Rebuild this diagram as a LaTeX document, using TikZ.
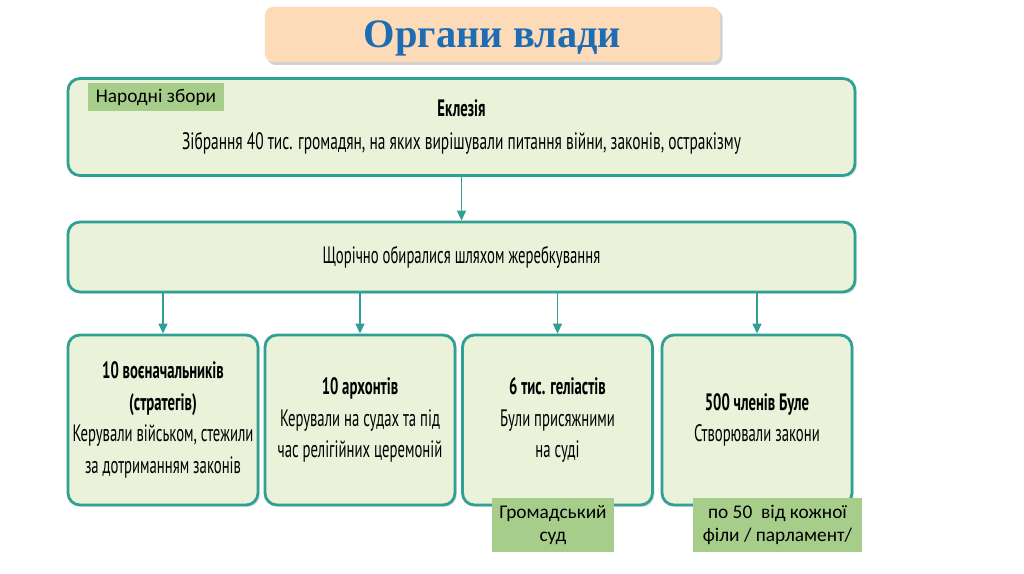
\documentclass[tikz,border=0pt]{standalone}
\usepackage{fontspec}
\setmainfont{Liberation Serif}
\newfontfamily\condfont[FakeStretch=0.62]{PT Sans}
\newfontfamily\condwide[FakeStretch=0.65]{PT Sans}
\newfontfamily\labelfont{Carlito}
\usetikzlibrary{shadows,arrows.meta}
\definecolor{tealline}{HTML}{2FA093}
\definecolor{boxfill}{HTML}{EAF3DA}
\definecolor{titlefill}{HTML}{FDDBB9}
\definecolor{titleblue}{HTML}{1E6DB4}
\definecolor{labelgreen}{HTML}{A6CD8A}
\tikzset{
  titlebox/.style={fill=titlefill, rounded corners=1.6mm, minimum width=91mm, minimum height=11mm,
    drop shadow={opacity=0.35,shadow xshift=0.5mm,shadow yshift=-0.6mm}, text depth=0pt,
    font=\bfseries\fontsize{23}{26}\selectfont, text=titleblue},
  panel/.style={draw=tealline, line width=1.6pt, rounded corners=2.4mm, fill=boxfill,
    drop shadow={opacity=0.2,shadow xshift=0.4mm,shadow yshift=-0.4mm},
    align=center, inner sep=0pt, font=\condfont\fontsize{13.5}{18}\selectfont},
  small/.style={panel, minimum width=38mm, minimum height=34mm},
  tag/.style={fill=labelgreen, align=center, inner sep=0pt, font=\labelfont\fontsize{11}{13.5}\selectfont},
  arr/.style={-{Triangle[width=1.8mm,length=2mm]}, draw=tealline, fill=tealline, line width=0.8pt}
}
\begin{document}
\begin{tikzpicture}[x=0.2mm,y=-0.2mm]
  \useasboundingbox[fill=white] (0,0) rectangle (1024,574);
  % title
  \node[titlebox] (title) at (492.5,34.5) {Органи влади};
  % assembly
  \node[panel, minimum width=157.4mm, minimum height=19.4mm] (ekl) at (461.5,127)
    {{\bfseries Еклезія}\\[1pt] {\condwide Зібрання 40 тис. громадян, на яких вирішували питання війни, законів, остракізму}};
  \node[tag, minimum width=27.2mm, minimum height=5.6mm] (zbory) at (156,97) {Народні збори};
  \node[panel, minimum width=157.4mm, minimum height=14mm] (lot) at (461.5,257)
    {Щорічно обиралися шляхом жеребкування};
  % offices
  \node[small] (strat) at (163,420) {{\bfseries 10 воєначальників}\\{\bfseries (стратегів)}\\Керували військом, стежили\\за дотриманням законів};
  \node[small] (arch) at (360,420) {{\bfseries 10 архонтів}\\Керували на судах та під\\час релігійних церемоній};
  \node[small] (hel) at (557.5,420) {{\bfseries 6 тис. геліастів}\\Були присяжними\\на суді};
  \node[small] (bule) at (757,420) {{\bfseries 500 членів Буле}\\Створювали закони};
  % notes
  \node[tag, minimum width=24.4mm, minimum height=10.8mm] (court) at (553,525) {Громадський\\суд};
  \node[tag, minimum width=33.8mm, minimum height=10.8mm] (parl) at (777.5,525) {по 50\ \ від кожної\\філи / парламент/};
  % arrows
  \draw[arr] (ekl.south) -- (lot.north);
  \foreach \b in {strat,arch,hel,bule}
    \draw[arr] (lot.south -| \b.north) -- (\b.north);
\end{tikzpicture}
\end{document}
